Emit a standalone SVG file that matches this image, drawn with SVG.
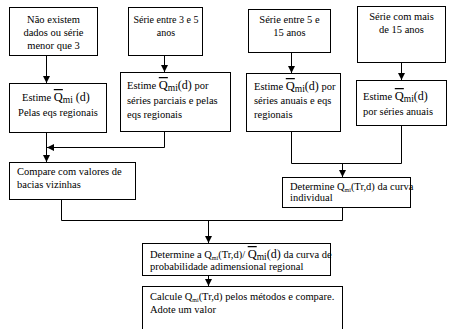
<svg xmlns="http://www.w3.org/2000/svg" width="453" height="329" viewBox="0 0 453 329" font-family="'Liberation Serif', 'Times New Roman', serif">
<defs>
<marker id="ah" viewBox="0 0 10 10" refX="10" refY="5" markerWidth="7" markerHeight="8" markerUnits="userSpaceOnUse" orient="auto">
<path d="M0,0 L10,5 L0,10 z" fill="#000"/>
</marker>
<style>
rect{fill:#fff;stroke:#000;stroke-width:1}
text{font-family:'Liberation Serif','Times New Roman',serif;font-size:10.5px;fill:#000}
.c{text-anchor:middle}
.sm{font-size:10px}
.q{font-size:12.5px;text-decoration:overline}
.d{font-size:12px}
.s{font-size:9.5px}
.t{font-size:6px}
#connectors path{fill:none;stroke:#000;stroke-width:1}
</style>
</defs>
<rect x="0" y="0" width="453" height="329" style="fill:#fff;stroke:none"/>
<g id="connectors">
<path d="M46.5,55 V83" marker-end="url(#ah)"/>
<path d="M164.5,55 V72" marker-end="url(#ah)"/>
<path d="M291.5,52 V73" marker-end="url(#ah)"/>
<path d="M401.5,62 V80" marker-end="url(#ah)"/>
<path d="M46.5,132 V162" marker-end="url(#ah)"/>
<path d="M164.5,131 V147.5 H47" marker-end="url(#ah)"/>
<path d="M291.5,131 V163.5 H401.5 V125"/>
<path d="M342.5,163.5 V177" marker-end="url(#ah)"/>
<path d="M61.5,199 V220.5 H342.5 V207"/>
<path d="M208.5,220.5 V243" marker-end="url(#ah)"/>
<path d="M208.5,275 V286" marker-end="url(#ah)"/>
</g>
<g id="n1">
<rect x="9.5" y="7.5" width="88" height="48"/>
<text class="c" x="53.5" y="23">Não existem</text>
<text class="c" x="53.5" y="36">dados ou série</text>
<text class="c" x="53.5" y="49">menor que 3</text>
</g>
<g id="n2">
<rect x="128.5" y="7.5" width="74" height="48"/>
<text class="c sm" x="166" y="23">Série entre 3 e 5</text>
<text class="c sm" x="166" y="36">anos</text>
</g>
<g id="n3">
<rect x="248.5" y="9.5" width="82" height="43"/>
<text class="c" x="289.5" y="23">Série entre 5 e</text>
<text class="c" x="289.5" y="36">15 anos</text>
</g>
<g id="n4">
<rect x="357.5" y="6.5" width="88" height="56"/>
<text class="c" x="401.5" y="20">Série com mais</text>
<text class="c" x="401.5" y="33">de 15 anos</text>
</g>
<g id="n5">
<rect x="9.5" y="83.5" width="97" height="49"/>
<text x="22" y="101">Estime <tspan class="q">Q</tspan><tspan class="s" dy="2">mi</tspan><tspan class="d" dy="-2"> (d)</tspan></text>
<text class="c" x="58" y="116">Pelas eqs regionais</text>
</g>
<g id="n6">
<rect x="120.5" y="72.5" width="110" height="59"/>
<text x="127" y="89">Estime <tspan class="q">Q</tspan><tspan class="s" dy="2">mi</tspan><tspan class="d" dy="-2">(d)</tspan>  por</text>
<text x="127" y="104">séries parciais e pelas</text>
<text x="127" y="118">eqs regionais</text>
</g>
<g id="n7">
<rect x="246.5" y="73.5" width="94" height="58"/>
<text x="254" y="90">Estime <tspan class="q">Q</tspan><tspan class="s" dy="2">mi</tspan><tspan class="d" dy="-2">(d)</tspan>  por</text>
<text x="254" y="104">séries anuais e eqs</text>
<text x="254" y="118">regionais</text>
</g>
<g id="n8">
<rect x="356.5" y="80.5" width="90" height="45"/>
<text x="363" y="100">Estime <tspan class="q">Q</tspan><tspan class="s" dy="2">mi</tspan><tspan class="d" dy="-2">(d)</tspan></text>
<text x="363" y="115">por séries anuais</text>
</g>
<g id="n9">
<rect x="9.5" y="162.5" width="126" height="37"/>
<text x="17" y="175">Compare com valores de</text>
<text x="17" y="188">bacias vizinhas</text>
</g>
<g id="n10">
<rect x="282.5" y="177.5" width="128" height="30"/>
<text x="290" y="190">Determine Q<tspan class="t" dy="1.5">mi</tspan><tspan dy="-1.5">(Tr,d)  da curva</tspan></text>
<text x="290" y="201">individual</text>
</g>
<g id="n11">
<rect x="142.5" y="243.5" width="188" height="32"/>
<text x="150" y="258">Determine a Q<tspan class="t" dy="1.5">mi</tspan><tspan dy="-1.5">(Tr,d)/ </tspan><tspan class="q">Q</tspan><tspan class="s" dy="2">mi</tspan><tspan class="d" dy="-2">(d)</tspan>  da curva de</text>
<text x="150" y="270">probabilidade adimensional regional</text>
</g>
<g id="n12">
<rect x="142.5" y="286.5" width="200" height="50"/>
<text x="150" y="300">Calcule Q<tspan class="t" dy="1.5">mi</tspan><tspan dy="-1.5">(Tr,d) pelos métodos e compare.</tspan></text>
<text x="150" y="313">Adote um valor</text>
</g>
</svg>
